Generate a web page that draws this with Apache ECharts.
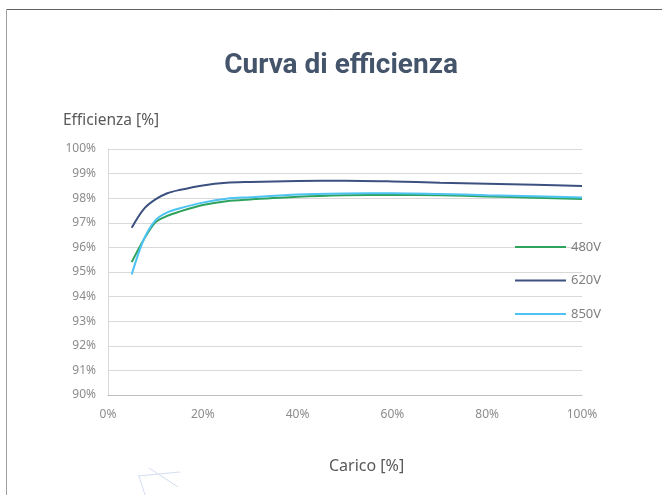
<!DOCTYPE html>
<html>
<head>
<meta charset="utf-8">
<script src="https://cdn.jsdelivr.net/npm/echarts@6/dist/echarts.min.js"></script>
<style>
  html, body { margin: 0; padding: 0; background: #fff; }
  #chart { width: 662px; height: 495px; }
</style>
</head>
<body>
<div id="chart"></div>
<script>
// carico [%]
const loads = [5, 7.5, 10, 12.5, 15, 20, 25, 30, 40, 50, 60, 70, 80, 90, 100]
// efficienza [%] per tensione
const eff480 = [95.4, 96.3, 97.02, 97.28, 97.45, 97.72, 97.88, 97.95, 98.06, 98.12, 98.14, 98.12, 98.07, 98.02, 97.97]
const eff620 = [96.8, 97.55, 97.95, 98.2, 98.33, 98.52, 98.63, 98.66, 98.7, 98.71, 98.68, 98.63, 98.59, 98.55, 98.5]
const eff850 = [94.9, 96.3, 97.1, 97.42, 97.58, 97.82, 97.98, 98.04, 98.15, 98.19, 98.2, 98.17, 98.12, 98.08, 98.03]
const seriesNames = ['480V', '620V', '850V']
const seriesColors = ['#2ea35d', '#3c5180', '#4ec3f3']

const chart = echarts.init(document.getElementById('chart'))
const font = '"Noto Sans", sans-serif'

function makeSeries (name, vals, color) {
  return {
    name: name,
    type: 'line',
    smooth: 0.3,
    symbol: 'none',
    data: loads.map((x, i) => [x, vals[i]]),
    lineStyle: { color: color, width: 2 },
    itemStyle: { color: color }
  }
}

const option = {
  backgroundColor: '#fff',
  animation: false,
  textStyle: { fontFamily: font },
  title: {
    text: 'Curva di efficienza',
    left: 336,
    textAlign: 'center',
    top: 47,
    textStyle: { fontSize: 28, fontWeight: 'bold', color: '#44546a', fontFamily: 'Roboto, sans-serif' }
  },
  legend: {
    orient: 'vertical',
    left: 514,
    top: 240.5,
    padding: 0,
    itemWidth: 51,
    itemHeight: 14,
    itemGap: 20.5,
    data: seriesNames,
    itemStyle: { opacity: 0 },
    textStyle: { color: '#7f7f7f', fontSize: 13, fontFamily: font },
    selectedMode: false
  },
  grid: { left: 108, right: 80, top: 149, bottom: 100 },
  xAxis: {
    type: 'value',
    min: 0,
    max: 100,
    interval: 20,
    axisLine: { show: true, lineStyle: { color: '#bfbfbf', width: 1 } },
    axisTick: { show: false },
    splitLine: { show: false },
    axisLabel: { formatter: '{value}%', color: '#8c8c8c', fontSize: 12, margin: 14 }
  },
  yAxis: {
    type: 'value',
    min: 90,
    max: 100,
    interval: 1,
    axisLine: { show: true, lineStyle: { color: '#d9d9d9', width: 1 } },
    axisTick: { show: false },
    splitLine: { lineStyle: { color: '#d9d9d9', width: 1 } },
    axisLabel: { formatter: '{value}%', color: '#8c8c8c', fontSize: 12, margin: 12 }
  },
  graphic: [
    // cornice
    { type: 'line', shape: { x1: 6.5, y1: 9.5, x2: 662, y2: 9.5 }, style: { stroke: '#5f6368', lineWidth: 1 }, silent: true },
    { type: 'line', shape: { x1: 6.5, y1: 9.5, x2: 6.5, y2: 495 }, style: { stroke: '#a0a0a0', lineWidth: 1 }, silent: true },
    // nomi degli assi
    { type: 'text', left: 63, top: 113, style: { text: 'Efficienza [%]', fill: '#595959', fontSize: 15.5, fontFamily: font }, silent: true },
    { type: 'text', left: 329, top: 458, style: { text: 'Carico [%]', fill: '#595959', fontSize: 16, fontFamily: font }, silent: true },
    // segni decorativi in basso a sinistra
    { type: 'line', shape: { x1: 149, y1: 468, x2: 178, y2: 487 }, style: { stroke: '#d3deef', lineWidth: 1 }, silent: true },
    { type: 'line', shape: { x1: 138, y1: 476, x2: 180, y2: 472 }, style: { stroke: '#d3deef', lineWidth: 1 }, silent: true },
    { type: 'line', shape: { x1: 139, y1: 476, x2: 145, y2: 495 }, style: { stroke: '#d3deef', lineWidth: 1 }, silent: true }
  ],
  series: [
    makeSeries(seriesNames[0], eff480, seriesColors[0]),
    makeSeries(seriesNames[1], eff620, seriesColors[1]),
    makeSeries(seriesNames[2], eff850, seriesColors[2])
  ]
}

chart.setOption(option)
</script>
</body>
</html>
